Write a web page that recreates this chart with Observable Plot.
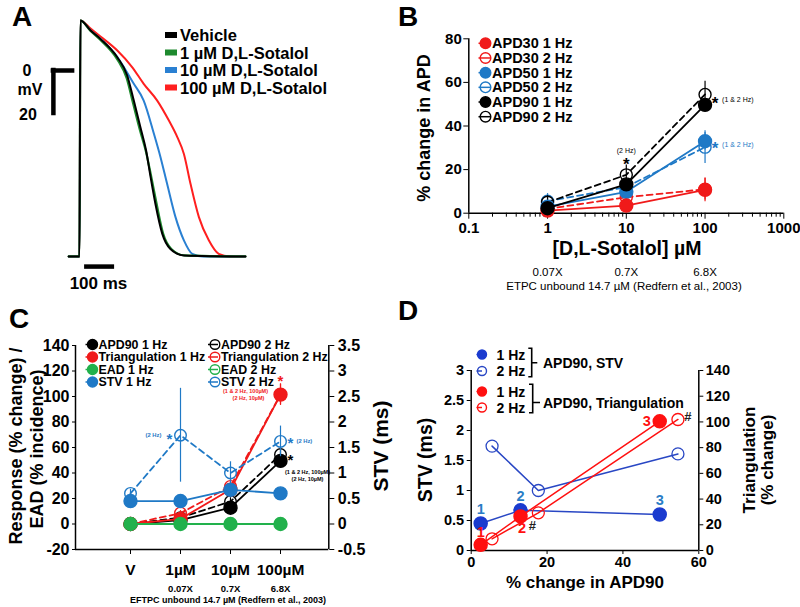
<!DOCTYPE html>
<html><head><meta charset="utf-8">
<script src="https://cdn.jsdelivr.net/npm/d3@7"></script>
<script src="https://cdn.jsdelivr.net/npm/@observablehq/plot@0.6"></script>
<style>
body{margin:0;background:#fff;}
#fig{position:relative;width:800px;height:607px;overflow:hidden;background:#fff}
</style></head><body><div id="fig"></div>
<script>
const FONT = '"Liberation Sans", Arial, sans-serif';
const RED = "#f01a1a", BLUE = "#1f79c6", GREEN = "#22b14c", BLACK = "#000";
const A_GREEN = "#1e8a2e", A_BLUE = "#2a80d2", A_RED = "#ff1f1f";
const D_BLUE = "#1b3bcf", D_BLUE_LINE = "#2947c4", D_LABEL = "#2a7dc6", D_RED = "#ff1010";

// ---------- Panel A: action potential traces [time ms, mV]
const traceVehicle = [[-36,-86.5],[0,-86.5],[3,23.3],[37,18.6],[70,14.7],[126,6.2],[159,-2.3],[181,-14],[203,-26.4],[222,-37.2],[237,-49.6],[253,-62],[276,-76],[303,-83],[348,-86],[553,-86.5]];
const trace1uM = [[-36,-86.5],[0,-86.5],[3,23.3],[37,18.4],[70,14.2],[126,5.2],[157,-3.5],[179,-15.5],[202,-28],[222,-38],[240,-50],[257,-62],[279,-76],[306,-83],[350,-86],[553,-86.5]];
const trace10uM = [[-36,-86.5],[0,-86.5],[3,23.3],[37,18.6],[70,14.7],[126,6.2],[137,3.9],[181,-6.2],[214,-14],[248,-29.4],[270,-40.3],[292,-52.7],[320,-68.2],[348,-79],[376,-85.3],[410,-86.5],[553,-86.5]];
const trace100uM = [[-36,-86.5],[0,-86.5],[3,23.3],[37,19.5],[70,15.8],[126,9.3],[176,1.5],[214,-6.2],[259,-14],[298,-23.3],[326,-31],[348,-38.8],[370,-52.7],[398,-68.2],[431,-79],[464,-85.3],[500,-86.5],[553,-86.5]];
const traceNames = ["Vehicle","1 µM D,L-Sotalol","10 µM D,L-Sotalol","100 µM D,L-Sotalol"];
const scaleBarMv = [{t:-87, v0:0, v1:-20}];
const scaleBarArm = [{t0:-87, t1:-23, v:0}];
const scaleBarMs = [{t0:17, t1:117, v:-91.2}];

// ---------- Panel B: % change in APD vs concentration
const bConc = [1, 10, 100];
const bRatio = ["0.07X","0.7X","6.8X"];
const apd30_1Hz = [1.2, 3.5, 10.7],  apd30_1HzErr = [1.0, 1.5, 5.5];
const apd30_2Hz = [2.0, 7.3, 11.0],  apd30_2HzErr = [1.5, 2.0, 5.0];
const apd50_1Hz = [3.0, 9.8, 33.0],  apd50_1HzErr = [1.5, 2.0, 4.0];
const apd50_2Hz = [5.5, 12.0, 30.3], apd50_2HzErr = [3.5, 2.5, 7.5];
const apd90_1Hz = [2.3, 13.2, 49.7], apd90_1HzErr = [1.0, 2.0, 2.5];
const apd90_2Hz = [5.0, 17.6, 54.5], apd90_2HzErr = [3.0, 4.5, 6.0];
const bXTicks = [0.1, 1, 10, 100, 1000];
const bYTicks = [0, 20, 40, 60, 80];

// ---------- Panel C: responses by concentration
const cCats = ["V","1µM","10µM","100µM"];
const cRatio = ["","0.07X","0.7X","6.8X"];
const cApd90_1Hz = [0, 3, 12.8, 49.5],   cApd90_1HzErr = [0, 1, 2, 2.5];
const cApd90_2Hz = [0, 5, 17.6, 54.5],   cApd90_2HzErr = [0, 1.5, 3, 3];
const cTri_1Hz = [0, 4, 27, 101.5],      cTri_1HzErr = [0, 1.5, 3, 8.5];
const cTri_2Hz = [0, 8.5, 29.5, 101.5],  cTri_2HzErr = [0, 2, 3, 8];
const cEad_1Hz = [0, 0, 0, 0];
const cEad_2Hz = [0, 0, 0, 0];
const cStv_1Hz = [0.45, 0.45, 0.67, 0.6],  cStv_1HzErr = [0.03, 0.03, 0.05, 0.04]; // ms
const cStv_2Hz = [0.6, 1.74, 1.0, 1.62],   cStv_2HzErr = [0.08, 0.92, 0.22, 0.3];
const cYTicks = [-20, 0, 20, 40, 60, 80, 100, 120, 140];
const STV_PER_UNIT = 40; // left axis units per ms of STV (3.5 ms <-> 140)

// ---------- Panel D: STV / triangulation vs APD90
const dApd90_1Hz = [2.5, 13.0, 49.7];
const dApd90_2Hz = [5.5, 17.7, 54.5];
const dStv_1Hz = [0.45, 0.67, 0.6];
const dStv_2Hz = [1.74, 1.0, 1.61];
const dTri_1Hz = [4.4, 26.5, 100.5];
const dTri_2Hz = [9.1, 29.3, 101.9];
const dPointLabels = ["1","2","3"];
const dXTicks = [0, 20, 40, 60];
const dYTicks = [0, 0.5, 1, 1.5, 2, 2.5, 3];
const dTriTicks = [0, 20, 40, 60, 80, 100, 120, 140];
const TRI_PER_MS = 140 / 3;

// ---------------------------------------------------------------
const fig = document.getElementById("fig");
const baseStyle = {background:"transparent", fontFamily:FONT, fontWeight:"bold", overflow:"visible", color:"#000"};
function place(svg, left, top) {
  svg.style.position = "absolute"; svg.style.left = left + "px"; svg.style.top = top + "px";
  svg.style.maxWidth = "none";
  fig.appendChild(svg);
}
const star = (data, o) => Plot.text(data, {text: () => "*", fontSize: 17, fontWeight: "bold", ...o});

// ---------- Panel A plot
const pA = Plot.plot({
  width: 260, height: 300, margin: 0, style: baseStyle,
  x: {domain: [-263.3, 603.3], axis: null},
  y: {domain: [-106.98, 32.56], axis: null},
  marks: [
    Plot.line(trace100uM, {x: d => d[0], y: d => d[1], stroke: A_RED, strokeWidth: 2, curve: "monotone-x"}),
    Plot.line(trace10uM, {x: d => d[0], y: d => d[1], stroke: A_BLUE, strokeWidth: 2, curve: "monotone-x"}),
    Plot.line(trace1uM, {x: d => d[0], y: d => d[1], stroke: A_GREEN, strokeWidth: 2.2, curve: "monotone-x"}),
    Plot.line(traceVehicle, {x: d => d[0], y: d => d[1], stroke: BLACK, strokeWidth: 2, curve: "monotone-x"}),
    Plot.ruleX(scaleBarMv, {x: "t", y1: "v0", y2: "v1", strokeWidth: 4.5, strokeLinecap: "square"}),
    Plot.ruleY(scaleBarArm, {x1: "t0", x2: "t1", y: "v", strokeWidth: 4.5, strokeLinecap: "square"}),
    Plot.ruleY(scaleBarMs, {x1: "t0", x2: "t1", y: "v", strokeWidth: 4.5})
  ]
});
place(pA, 0, 0);

// ---------- Panel B plot
const bDefs = [
  {vals: apd30_2Hz, err: apd30_2HzErr, color: RED, open: true},
  {vals: apd50_2Hz, err: apd50_2HzErr, color: BLUE, open: true},
  {vals: apd90_2Hz, err: apd90_2HzErr, color: BLACK, open: true},
  {vals: apd50_1Hz, err: apd50_1HzErr, color: BLUE, open: false},
  {vals: apd30_1Hz, err: apd30_1HzErr, color: RED, open: false},
  {vals: apd90_1Hz, err: apd90_1HzErr, color: BLACK, open: false}
];
const bMinor = [];
for (const dec of [0.1, 1, 10, 100]) for (let k = 2; k <= 9; k++) bMinor.push(+(dec * k).toPrecision(3));
const pB = Plot.plot({
  width: 400, height: 300, marginLeft: 68.3, marginRight: 16.7, marginTop: 38.3, marginBottom: 87.3, style: baseStyle,
  x: {type: "log", domain: [0.1, 1000]},
  y: {domain: [0, 80]},
  marks: [
    Plot.axisY({ticks: bYTicks, tickSize: 5, tickPadding: 2, fontSize: 15, fontWeight: "bold", label: null, tickFormat: d => String(d)}),
    Plot.axisX({ticks: bXTicks, tickSize: 6, tickPadding: 3, fontSize: 15, fontWeight: "bold", label: null, tickFormat: d => String(d)}),
    Plot.axisX({ticks: bMinor, tickSize: 4, label: null, tickFormat: () => ""}),
    Plot.ruleX([0.1], {y1: 0, y2: 80, strokeWidth: 1.5}),
    Plot.ruleY([0], {strokeWidth: 1.5}),
    ...bDefs.flatMap(s => {
      const rows = bConc.map((c, i) => ({x: c, y: s.vals[i], e: s.err[i]}));
      return [
        Plot.ruleX(rows, {x: "x", y1: d => d.y - d.e, y2: d => d.y + d.e, stroke: s.color, strokeWidth: 1.2}),
        Plot.line(rows, {x: "x", y: "y", stroke: s.color, strokeWidth: 1.8, strokeDasharray: s.open ? "6,4" : null}),
        Plot.dot(rows, {x: "x", y: "y", r: s.open ? 6 : 6.5, fill: s.open ? "none" : s.color, stroke: s.color, strokeWidth: 1.4})
      ];
    }),
    Plot.text(bConc, {x: d => d, y: 0, text: (d, i) => bRatio[i], dy: 59, fontSize: 11.5, fontWeight: "normal"}),
    star([{x: 100, y: 52.2}], {x: "x", y: "y", dx: 10, dy: 4, fill: BLACK}),
    Plot.text([{x: 100, y: 52.2}], {x: "x", y: "y", dx: 17, text: () => "(1 & 2 Hz)", fontSize: 7, fontWeight: "normal", textAnchor: "start", fill: BLACK}),
    star([{x: 100, y: 31.4}], {x: "x", y: "y", dx: 10, dy: 4, fill: BLUE}),
    Plot.text([{x: 100, y: 31.4}], {x: "x", y: "y", dx: 17, text: () => "(1 & 2 Hz)", fontSize: 7, fontWeight: "normal", textAnchor: "start", fill: BLUE}),
    Plot.text([{x: 10, y: 28.4}], {x: "x", y: "y", dy: -1, text: () => "(2 Hz)", fontSize: 7, fontWeight: "normal"}),
    star([{x: 10, y: 24.5}], {x: "x", y: "y", dy: 5, fill: BLACK})
  ]
});
place(pB, 400, 0);

// ---------- Panel C plot
const cDefs = [
  {vals: cApd90_2Hz, err: cApd90_2HzErr, color: BLACK, open: true, k: 1},
  {vals: cApd90_1Hz, err: cApd90_1HzErr, color: BLACK, open: false, k: 1},
  {vals: cTri_2Hz, err: cTri_2HzErr, color: RED, open: true, k: 1},
  {vals: cTri_1Hz, err: cTri_1HzErr, color: RED, open: false, k: 1},
  {vals: cStv_2Hz, err: cStv_2HzErr, color: BLUE, open: true, k: STV_PER_UNIT},
  {vals: cStv_1Hz, err: cStv_1HzErr, color: BLUE, open: false, k: STV_PER_UNIT},
  {vals: cEad_2Hz, err: null, color: GREEN, open: true, k: 1},
  {vals: cEad_1Hz, err: null, color: GREEN, open: false, k: 1}
];
const pC = Plot.plot({
  width: 400, height: 312, marginLeft: 75, marginRight: 71.7, marginTop: 50, marginBottom: 58, style: baseStyle,
  x: {domain: [-1.1, 3.966]},
  y: {domain: [-20, 140]},
  marks: [
    Plot.axisY({ticks: cYTicks, tickSize: 3, tickPadding: 3, fontSize: 16, fontWeight: "bold", label: null, tickFormat: d => String(d)}),
    Plot.axisY({anchor: "right", ticks: cYTicks, tickSize: 5, tickPadding: 4, fontSize: 16, fontWeight: "bold", label: null, tickFormat: d => String(d / STV_PER_UNIT)}),
    Plot.axisX({ticks: [0, 1, 2, 3], tickSize: 5, tickPadding: 9, fontSize: 15.5, fontWeight: "bold", label: null, tickFormat: i => cCats[i]}),
    Plot.ruleX([-1.1, 3.966], {y1: -20, y2: 140, strokeWidth: 1.5}),
    Plot.ruleY([-20], {strokeWidth: 1.5}),
    ...cDefs.flatMap(s => {
      const rows = cCats.map((c, i) => ({x: i, y: s.vals[i] * s.k, e: s.err ? s.err[i] * s.k : 0}));
      const m = [];
      if (s.err) m.push(Plot.ruleX(rows.filter(d => d.e > 0), {x: "x", y1: d => d.y - d.e, y2: d => d.y + d.e, stroke: s.color, strokeWidth: 1.2}));
      m.push(Plot.line(rows, {x: "x", y: "y", stroke: s.color, strokeWidth: 1.8, strokeDasharray: s.open ? "6,4" : null}));
      m.push(Plot.dot(rows, {x: "x", y: "y", r: s.open ? 5.8 : 6.5, fill: s.open ? "none" : s.color, stroke: s.color, strokeWidth: 1.4}));
      return m;
    }),
    Plot.text([1, 2, 3], {x: d => d, y: -20, text: d => cRatio[d], dy: 39.5, fontSize: 9.5, fontWeight: "bold"}),
    // significance marks
    star([{x: 1, y: cStv_2Hz[1] * STV_PER_UNIT}], {x: "x", y: "y", dx: -11, dy: 3.5, fontSize: 15, fill: BLUE}),
    Plot.text([{x: 1, y: cStv_2Hz[1] * STV_PER_UNIT}], {x: "x", y: "y", dx: -27, text: () => "(2 Hz)", fontSize: 5.8, fill: BLUE}),
    star([{x: 3, y: cStv_2Hz[3] * STV_PER_UNIT}], {x: "x", y: "y", dx: 10, dy: 2, fontSize: 15, fill: BLUE}),
    Plot.text([{x: 3, y: cStv_2Hz[3] * STV_PER_UNIT}], {x: "x", y: "y", dx: 16, text: () => "(2 Hz)", fontSize: 5.8, textAnchor: "start", fill: BLUE}),
    star([{x: 3, y: cTri_1Hz[3]}], {x: "x", y: "y", dy: -13.5, fontSize: 15, fill: RED}),
    Plot.text([{x: 3, y: cTri_1Hz[3]}], {x: "x", y: "y", dx: -35, dy: -3, text: () => "(1 & 2 Hz, 100µM)", fontSize: 5.5, fill: RED}),
    Plot.text([{x: 3, y: cTri_1Hz[3]}], {x: "x", y: "y", dx: -32, dy: 4, text: () => "(2 Hz, 10µM)", fontSize: 5.5, fill: RED}),
    star([{x: 3, y: cApd90_1Hz[3]}], {x: "x", y: "y", dx: 10, dy: -0.5, fontSize: 15, fill: BLACK}),
    Plot.text([{x: 3, y: cApd90_1Hz[3]}], {x: "x", y: "y", dx: 27, dy: 11.5, text: () => "(1 & 2 Hz, 100µM)", fontSize: 5.5, fill: BLACK}),
    Plot.text([{x: 3, y: cApd90_1Hz[3]}], {x: "x", y: "y", dx: 27, dy: 18, text: () => "(2 Hz, 10µM)", fontSize: 5.5, fill: BLACK})
  ]
});
place(pC, 0, 295);

// ---------- Panel D plot
const toMs = v => v / TRI_PER_MS;
const dRows = (xs, ys, f = v => v) => xs.map((x, i) => ({x, y: f(ys[i]), i}));
const d1 = dRows(dApd90_1Hz, dStv_1Hz), d2 = dRows(dApd90_2Hz, dStv_2Hz);
const t1 = dRows(dApd90_1Hz, dTri_1Hz, toMs), t2 = dRows(dApd90_2Hz, dTri_2Hz, toMs);
const redLabel = (idx, dx, dy) => Plot.text(t1, {x: "x", y: "y", text: d => dPointLabels[d.i], filter: d => d.i === idx, dx, dy, fontSize: 14.5, fontWeight: "bold", fill: D_RED});
const pD = Plot.plot({
  width: 400, height: 312, marginLeft: 70.7, marginRight: 101.7, marginTop: 75, marginBottom: 57, style: baseStyle,
  x: {domain: [0, 60]},
  y: {domain: [0, 3]},
  marks: [
    Plot.axisY({ticks: dYTicks, tickSize: 4, tickPadding: 3, fontSize: 14.5, fontWeight: "bold", label: null, tickFormat: d => String(d)}),
    Plot.axisY({anchor: "right", ticks: dTriTicks.map(toMs), tickSize: 4, tickPadding: 3, fontSize: 14.5, fontWeight: "bold", label: null, tickFormat: d => String(Math.round(d * TRI_PER_MS))}),
    Plot.axisX({ticks: dXTicks, tickSize: 4, tickPadding: 2, fontSize: 14.5, fontWeight: "bold", label: null, tickFormat: d => String(d)}),
    Plot.ruleX([0, 60], {y1: 0, y2: 3, strokeWidth: 1.5}),
    Plot.ruleY([0], {strokeWidth: 1.5}),
    Plot.line(d2, {x: "x", y: "y", stroke: D_BLUE_LINE, strokeWidth: 1.5}),
    Plot.line(d1, {x: "x", y: "y", stroke: D_BLUE_LINE, strokeWidth: 1.5}),
    Plot.dot(d2, {x: "x", y: "y", r: 6, fill: "none", stroke: D_BLUE_LINE, strokeWidth: 1.3}),
    Plot.dot(d1, {x: "x", y: "y", r: 6.5, fill: D_BLUE, stroke: D_BLUE}),
    Plot.line(t2, {x: "x", y: "y", stroke: D_RED, strokeWidth: 1.5}),
    Plot.line(t1, {x: "x", y: "y", stroke: D_RED, strokeWidth: 1.5}),
    Plot.dot(t2, {x: "x", y: "y", r: 6, fill: "none", stroke: D_RED, strokeWidth: 1.3}),
    Plot.dot(t1, {x: "x", y: "y", r: 6.5, fill: D_RED, stroke: D_RED}),
    Plot.text(d1, {x: "x", y: "y", text: d => dPointLabels[d.i], dy: -14, fontSize: 14.5, fontWeight: "bold", fill: D_LABEL}),
    redLabel(0, 0, -12),
    redLabel(1, 1.5, 12),
    redLabel(2, -13, 0),
    Plot.text(t2, {x: "x", y: "y", text: () => "#", filter: d => d.i === 1, dx: -6, dy: 13, fontSize: 13, fontWeight: "bold", fill: "#222"}),
    Plot.text(t2, {x: "x", y: "y", text: () => "#", filter: d => d.i === 2, dx: 10, dy: -3, fontSize: 13, fontWeight: "bold", fill: "#222"})
  ]
});
place(pD, 400, 295);

// ---------- overlay: panel letters, titles, legends, footnotes
const ov = d3.select(fig).append("svg").attr("width", 800).attr("height", 607)
  .style("position", "absolute").style("left", "0px").style("top", "0px").style("font-family", FONT);
function T(x, y, s, o = {}) {
  const t = ov.append("text").attr("x", x).attr("y", y).attr("dominant-baseline", "central")
    .attr("text-anchor", o.anchor || "start").attr("font-size", o.size || 14)
    .attr("font-weight", o.weight || "bold").attr("fill", o.color || "#000").text(s);
  if (o.rotate) t.attr("transform", `rotate(${o.rotate},${x},${y})`);
  return t;
}
function M(x, y, color, open, r = 5.5, l1 = 7, l2 = 6) {
  ov.append("line").attr("x1", x - l1).attr("x2", x + l2).attr("y1", y).attr("y2", y).attr("stroke", color).attr("stroke-width", 1.5);
  ov.append("circle").attr("cx", x).attr("cy", y).attr("r", r).attr("fill", open ? "none" : color).attr("stroke", color).attr("stroke-width", 1.4);
}

// panel letters
T(12, 16, "A", {size: 28}); T(398, 16, "B", {size: 28}); T(9, 318, "C", {size: 28}); T(398, 310, "D", {size: 28});

// Panel A texts & legend
T(27, 70, "0", {size: 16, anchor: "middle"});
T(30, 89, "mV", {size: 16, anchor: "middle"});
T(28, 114, "20", {size: 16, anchor: "middle"});
T(98.5, 283, "100 ms", {size: 17, anchor: "middle"});
const aLegColors = [BLACK, A_GREEN, A_BLUE, A_RED];
traceNames.forEach((n, i) => {
  const y = 35 + i * 17.5;
  ov.append("rect").attr("x", 165).attr("y", y - 3).attr("width", 12).attr("height", 6).attr("fill", aLegColors[i]);
  T(180, y, n, {size: 16.5});
});

// Panel B titles & legend
T(424, 128, "% change in APD", {size: 18, anchor: "middle", rotate: -90});
T(627, 248, "[D,L-Sotalol] µM", {size: 19.5, anchor: "middle"});
T(624, 286, "ETPC unbound 14.7 µM (Redfern et al., 2003)", {size: 11.5, anchor: "middle", weight: "normal"});
const bLeg = [["APD30 1 Hz", RED, false], ["APD30 2 Hz", RED, true], ["APD50 1 Hz", BLUE, false],
              ["APD50 2 Hz", BLUE, true], ["APD90 1 Hz", BLACK, false], ["APD90 2 Hz", BLACK, true]];
bLeg.forEach(([n, c, o], i) => { const y = 43.3 + i * 14.68; M(485.5, y, c, o, 5.3, 7, 5); T(492, y, n, {size: 14.5}); });

// Panel C titles & legend
T(16, 446, "Response (% change) /", {size: 18, anchor: "middle", rotate: -90});
T(37, 449, "EAD (% incidence)", {size: 18, anchor: "middle", rotate: -90});
T(380, 446, "STV (ms)", {size: 21, anchor: "middle", rotate: -90});
T(228, 599.5, "EFTPC unbound 14.7 µM (Redfern et al., 2003)", {size: 9, anchor: "middle"});
const cLeg = [["APD90 1 Hz", BLACK], ["Triangulation 1 Hz", RED], ["EAD 1 Hz", GREEN], ["STV 1 Hz", BLUE]];
cLeg.forEach(([n, c], i) => {
  const y = 344.5 + i * 12.5;
  M(92.5, y, c, false, 5, 7, 3); T(98.5, y, n, {size: 12.4});
  M(215, y, c, true, 4.8, 7, 3); T(221, y, n.replace("1 Hz", "2 Hz"), {size: 12.4});
});

// Panel D titles & legend
T(425, 460, "STV (ms)", {size: 19.5, anchor: "middle", rotate: -90});
T(749, 460, "Triangulation", {size: 17, anchor: "middle", rotate: -90});
T(767.5, 460, "(% change)", {size: 17, anchor: "middle", rotate: -90});
T(585, 582, "% change in APD90", {size: 17, anchor: "middle"});
const dLeg = [["1 Hz", D_BLUE, false, 354.5], ["2 Hz", D_BLUE_LINE, true, 371], ["1 Hz", D_RED, false, 391.5], ["2 Hz", D_RED, true, 407.5]];
dLeg.forEach(([n, c, o, y]) => { M(482, y, c, o, 4.5, 5.5, 0); T(496.5, y, n, {size: 14}); });
ov.append("path").attr("d", "M528.3,348.3H531.7V376.7H528.3M531.7,362.7H537.3 M529,384.3H532.7V412.7H529M532.7,402.5H540")
  .attr("fill", "none").attr("stroke", "#000").attr("stroke-width", 1.6);
T(543, 362.7, "APD90, STV", {size: 14});
T(543, 402.7, "APD90, Triangulation", {size: 14});
</script></body></html>
